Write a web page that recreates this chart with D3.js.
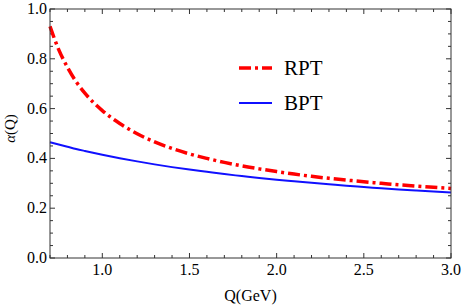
<!DOCTYPE html>
<html>
<head>
<meta charset="utf-8">
<script src="https://cdn.jsdelivr.net/npm/d3@7"></script>
<style>
  body { margin: 0; background: #fff; }
</style>
</head>
<body>
<div id="chart"></div>
<script>
const width = 463;
const height = 306;
const margin = { top: 9, right: 12, bottom: 48, left: 50 };
const serif = "'Liberation Serif', 'Times New Roman', 'DejaVu Serif', serif";

// Q values (GeV)
const qValues = [0.7, 0.75, 0.8, 0.85, 0.9, 1.0, 1.1, 1.2, 1.3, 1.4, 1.5, 1.6, 1.7, 1.8, 1.9,
                 2.0, 2.1, 2.2, 2.3, 2.4, 2.5, 2.6, 2.7, 2.8, 2.9, 3.0];
const rptValues = [0.930, 0.837, 0.766, 0.708, 0.662, 0.592, 0.540, 0.499, 0.466, 0.440, 0.418,
                   0.400, 0.384, 0.370, 0.358, 0.347, 0.337, 0.328, 0.320, 0.313, 0.306,
                   0.300, 0.294, 0.289, 0.284, 0.279];
const bptValues = [0.465, 0.456, 0.447, 0.438, 0.430, 0.415, 0.401, 0.388, 0.376, 0.365, 0.355,
                   0.346, 0.337, 0.329, 0.321, 0.314, 0.308, 0.302, 0.296, 0.290, 0.285,
                   0.280, 0.275, 0.271, 0.267, 0.263];
const xTicks = [1.0, 1.5, 2.0, 2.5, 3.0];
const yTicks = [0.0, 0.2, 0.4, 0.6, 0.8, 1.0];
const seriesNames = ["RPT", "BPT"];

const svg = d3.select("#chart")
    .append("svg")
    .attr("width", width)
    .attr("height", height)
    .attr("font-family", serif);

const x = d3.scaleLinear().domain([0.7, 3.0]).range([margin.left, width - margin.right]);
const y = d3.scaleLinear().domain([0, 1]).range([height - margin.bottom, margin.top]);

const x0 = margin.left, x1 = width - margin.right;
const y0 = height - margin.bottom, y1 = margin.top;

// minor ticks
const xMinor = d3.range(0.7, 3.0001, 0.1).filter(v => !xTicks.some(t => Math.abs(t - v) < 1e-6));
const yMinor = d3.range(0, 1.0001, 0.05).filter(v => !yTicks.some(t => Math.abs(t - v) < 1e-6));

const tickColor = "#333";
const g = svg.append("g").attr("stroke", tickColor).attr("stroke-width", 1);

function xTick(v, len) {
    g.append("line").attr("x1", x(v)).attr("x2", x(v)).attr("y1", y0).attr("y2", y0 - len);
    g.append("line").attr("x1", x(v)).attr("x2", x(v)).attr("y1", y1).attr("y2", y1 + len);
}
function yTick(v, len) {
    g.append("line").attr("y1", y(v)).attr("y2", y(v)).attr("x1", x0).attr("x2", x0 + len);
    g.append("line").attr("y1", y(v)).attr("y2", y(v)).attr("x1", x1).attr("x2", x1 - len);
}
xTicks.forEach(v => xTick(v, 5));
xMinor.forEach(v => xTick(v, 3));
yTicks.forEach(v => yTick(v, 5));
yMinor.forEach(v => yTick(v, 3));

// curves
const line = vals => d3.line()
    .x((d, i) => x(qValues[i]))
    .y(d => y(d))
    .curve(d3.curveMonotoneX)(vals);

const rptDash = "12,4,3,4";

svg.append("path")
    .attr("d", line(bptValues))
    .attr("fill", "none")
    .attr("stroke", "#1010ff")
    .attr("stroke-width", 2);

svg.append("path")
    .attr("d", line(rptValues))
    .attr("fill", "none")
    .attr("stroke", "#ff0000")
    .attr("stroke-width", 3.5)
    .attr("stroke-dasharray", rptDash);

// frame
svg.append("rect")
    .attr("x", x0).attr("y", y1)
    .attr("width", x1 - x0).attr("height", y0 - y1)
    .attr("fill", "none")
    .attr("stroke", tickColor)
    .attr("stroke-width", 1);

// tick labels
svg.selectAll(".xl").data(xTicks).enter().append("text")
    .attr("x", d => x(d)).attr("y", y0 + 17)
    .attr("text-anchor", "middle")
    .attr("font-size", 16)
    .text(d => d.toFixed(1));

svg.selectAll(".yl").data(yTicks).enter().append("text")
    .attr("x", x0 - 3).attr("y", d => y(d) + 5)
    .attr("text-anchor", "end")
    .attr("font-size", 16)
    .text(d => d.toFixed(1));

// axis titles
svg.append("text")
    .attr("x", (x0 + x1) / 2).attr("y", 301)
    .attr("text-anchor", "middle")
    .attr("font-size", 16)
    .text("Q(GeV)");

svg.append("text")
    .attr("transform", `translate(15,${(y0 + y1) / 2 - 5}) rotate(-90)`)
    .attr("text-anchor", "middle")
    .attr("font-size", 15)
    .html('<tspan font-style="italic">α</tspan>(Q)');

// legend
const legend = [
    { name: seriesNames[0], color: "#ff0000", w: 3.5, dash: rptDash, yy: 68 },
    { name: seriesNames[1], color: "#1010ff", w: 2, dash: null, yy: 103 }
];
legend.forEach(l => {
    svg.append("line")
        .attr("x1", 239).attr("x2", 272)
        .attr("y1", l.yy).attr("y2", l.yy)
        .attr("stroke", l.color)
        .attr("stroke-width", l.w)
        .attr("stroke-dasharray", l.dash);
    svg.append("text")
        .attr("x", 284).attr("y", l.yy + 7)
        .attr("font-size", 21)
        .text(l.name);
});
</script>
</body>
</html>
